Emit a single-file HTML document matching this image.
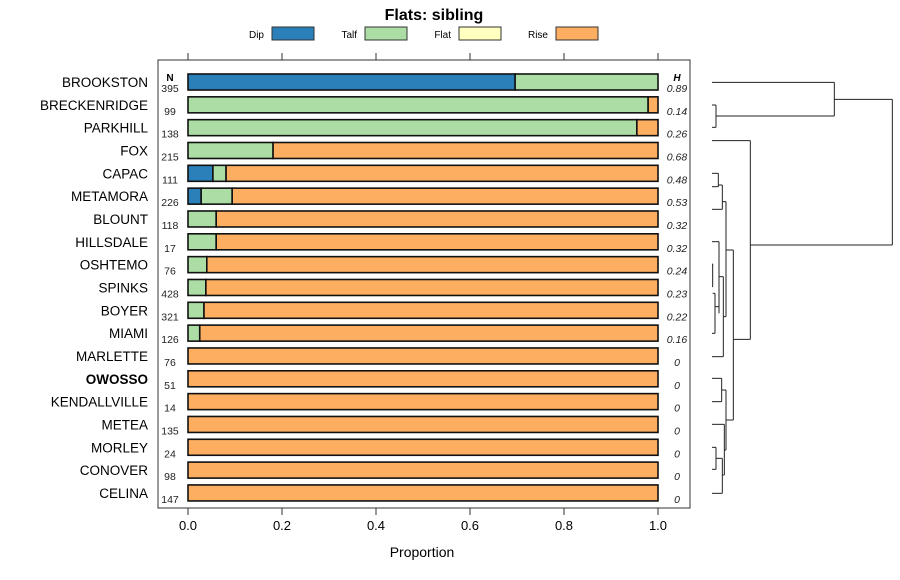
<!DOCTYPE html>
<html><head><meta charset="utf-8"><style>body{margin:0;background:#fff}svg{display:block;font-family:"Liberation Sans",sans-serif}</style></head>
<body>
<svg id="c" width="900" height="580">
<text x="434" y="20" text-anchor="middle" font-weight="bold" font-size="16">Flats: sibling</text>
<g id="legend"></g>
<rect x="158" y="60" width="532" height="448" fill="none" stroke="#333"/>
<g id="bars"></g><g id="axis"></g>
<text x="422" y="557" text-anchor="middle" font-size="14">Proportion</text>
<text x="170" y="81" text-anchor="middle" font-size="10" font-weight="bold">N</text>
<text x="677" y="81" text-anchor="middle" font-size="10" font-style="italic" font-weight="bold">H</text>
<g id="dendro" fill="none" stroke="#222" stroke-width="1"></g>
</svg>
<script>
const names=["BROOKSTON","BRECKENRIDGE","PARKHILL","FOX","CAPAC","METAMORA","BLOUNT","HILLSDALE","OSHTEMO","SPINKS","BOYER","MIAMI","MARLETTE","OWOSSO","KENDALLVILLE","METEA","MORLEY","CONOVER","CELINA"];
const nVals=[395,99,138,215,111,226,118,17,76,428,321,126,76,51,14,135,24,98,147];
const hVals=["0.89","0.14","0.26","0.68","0.48","0.53","0.32","0.32","0.24","0.23","0.22","0.16","0","0","0","0","0","0","0"];
const dipVals=[0.696,0,0,0,0.053,0.028,0,0,0,0,0,0,0,0,0,0,0,0,0];
const talfVals=[0.304,0.979,0.955,0.181,0.028,0.066,0.06,0.06,0.04,0.038,0.034,0.025,0,0,0,0,0,0,0];
const flatVals=[0,0,0,0,0,0,0,0,0,0,0,0,0,0,0,0,0,0,0];
const ticks=[0,0.2,0.4,0.6,0.8,1.0];
const tickLabels=["0.0","0.2","0.4","0.6","0.8","1.0"];
const cats=["Dip","Talf","Flat","Rise"];
const colors=["#2b80b9","#abdda4","#ffffbf","#fdae61"];
const NS="http://www.w3.org/2000/svg";
const X=p=>188+470*p, Y=i=>82+i*22.83;
function mk(t,a,par){const e=document.createElementNS(NS,t);for(const k in a)e.setAttribute(k,a[k]);par.appendChild(e);return e;}
const bars=document.getElementById('bars');
names.forEach((nm,i)=>{
  const y=Y(i);
  const t=mk('text',{x:148,y:y+5,'text-anchor':'end','font-size':13.5,'font-weight':nm==="OWOSSO"?'bold':'normal'},bars);t.textContent=nm;
  
  const n=mk('text',{x:170,y:y+10,'text-anchor':'middle','font-size':10.5,fill:'#222'},bars);n.textContent=nVals[i];
  
  const h=mk('text',{x:677,y:y+10,'text-anchor':'middle','font-size':10.5,'font-style':'italic',fill:'#222'},bars);h.textContent=hVals[i];
  
  const vals=[dipVals[i],talfVals[i],flatVals[i],Math.max(0,1-dipVals[i]-talfVals[i]-flatVals[i])];
  let c=0;
  vals.forEach((v,k)=>{if(v<=0)return;
    const r=mk('rect',{x:X(c),y:y-8,width:X(c+v)-X(c),height:16,fill:colors[k],stroke:'#111','stroke-width':1.6},bars);
    c+=v;});
});
const ax=document.getElementById('axis');
ticks.forEach((v,i)=>{
  const a=mk('line',{x1:X(v),x2:X(v),y1:60,y2:53,stroke:'#333'},ax);
  const b=mk('line',{x1:X(v),x2:X(v),y1:508,y2:515,stroke:'#333'},ax);
  const t=mk('text',{x:X(v),y:530,'text-anchor':'middle','font-size':13},ax);t.textContent=tickLabels[i];
  
});
const lg=document.getElementById('legend');
const lx=[264,357,451,548];
cats.forEach((c,k)=>{
  const t=mk('text',{x:lx[k],y:38,'text-anchor':'end','font-size':10},lg);t.textContent=c;
  
  const r=mk('rect',{x:lx[k]+8,y:27,width:42,height:13,fill:colors[k],stroke:'#333'},lg);
  
});
const seg=[[66,67,433,67],[66,135,78,135],[66,202,78,202],[78,135,78,202],[78,168,433,168],[433,67,433,168],[433,118,607,118],[607,118,607,555],[181,555,607,555],
[66,242,181,242],[181,242,181,838],[130,838,181,838],
[66,340,85,340],[66,380,85,380],[85,340,85,380],[85,375,97,375],[66,448,97,448],[97,375,97,448],[97,425,108,425],
[66,545,87,545],[66,612,68,612],[66,680,68,680],[68,612,68,680],[68,700,75,700],[66,820,75,820],[75,700,75,820],[75,740,87,740],[87,545,87,760],[87,650,100,650],[66,890,100,890],[100,650,100,890],[100,770,108,770],[108,425,108,770],[108,570,130,570],[130,570,130,1080],
[66,955,95,955],[66,1025,95,1025],[95,955,95,1025],[95,990,108,990],[108,990,108,1170],[108,1080,130,1080],
[66,1093,103,1093],[103,1093,103,1245],[103,1170,108,1170],[66,1162,78,1162],[66,1228,78,1228],[78,1162,78,1228],[78,1195,97,1195],[66,1300,97,1300],[97,1195,97,1300],[97,1245,103,1245]];
const dg=document.getElementById('dendro');
seg.forEach(s=>{const l=mk('line',{x1:690+s[0]/3,y1:60+s[1]/3,x2:690+s[2]/3,y2:60+s[3]/3},dg);
  });
</script>
</body></html>
